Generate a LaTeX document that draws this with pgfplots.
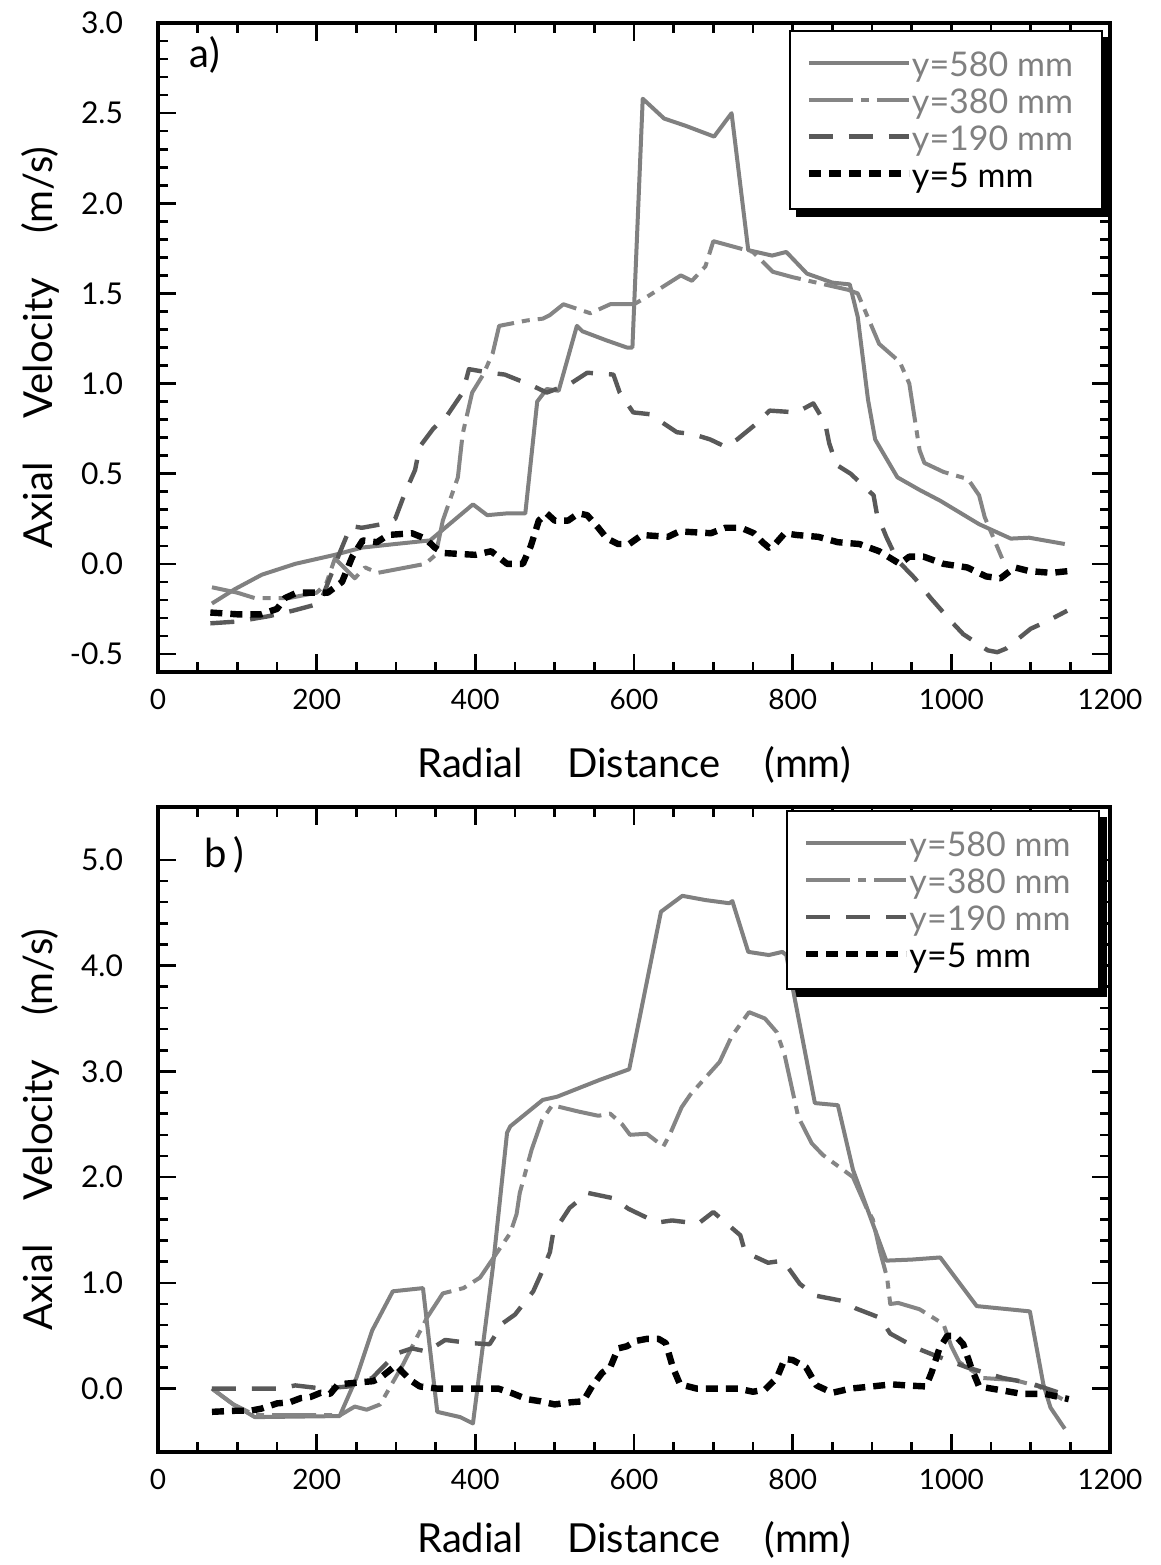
\documentclass[border=0pt]{standalone}
\usepackage{fontspec}
\setmainfont{Lato}
\usepackage{pgfplots}
\pgfplotsset{compat=1.18}
\usetikzlibrary{backgrounds}
\definecolor{gA}{gray}{0.50}
\definecolor{gB}{gray}{0.52}
\definecolor{gC}{gray}{0.35}
\pgfplotsset{
  myaxis/.style={
    scale only axis, width=476pt, anchor=south west,
    xmin=0, xmax=1200, xtick={0,200,400,600,800,1000,1200}, minor x tick num=3,
    axis line style={line width=2pt},
    tick style={line width=1.3pt, black},
    major tick length=9pt, minor tick length=5pt,
    tick align=inside,
    /pgf/number format/assume math mode=true,
    /pgf/number format/1000 sep={},
    xticklabel style={font=\fontsize{14}{14}\selectfont, yshift=-5pt},
    yticklabel style={font=\fontsize{15}{15}\selectfont, xshift=-14pt, /pgf/number format/.cd, fixed, fixed zerofill, precision=1},
    xlabel={Radial\hspace{1.1em}Distance\hspace{1.1em}(mm)},
    ylabel={Axial\hspace{1.1em}Velocity\hspace{1.1em}(m/s)},
    label style={font=\fontsize{20}{20}\selectfont},
    ylabel style={at={(axis description cs:-0.124,0.5)}, anchor=center},
    legend cell align=left,
    legend style={anchor=north east, draw=black, line width=1pt, fill=white,
      inner xsep=8pt, inner ysep=7.5pt, column sep=0pt, row sep=0pt,
      font=\fontsize{17}{17}\selectfont,
      nodes={inner sep=0pt, text height=15pt, text depth=3.5pt}},
    legend image code/.code={\draw[#1] (0pt,1pt) -- (50pt,1pt);},
  },
  s580/.style={gA, line width=2pt, line join=round},
  s380/.style={gB, line width=2pt, line join=round, dash pattern=on 22pt off 4pt on 4pt off 4pt},
  s190/.style={gC, line width=2.2pt, line join=round, dash pattern=on 12pt off 8pt},
  s5/.style={black, line width=3.2pt, line join=round, dash pattern=on 6pt off 4pt},
}
\begin{document}
\begin{tikzpicture}
\useasboundingbox (0pt,0pt) rectangle (580.5pt,-782.5pt);
% ---------------- panel a ----------------
\begin{axis}[myaxis, at={(79pt,-336pt)}, height=324.5pt,
  ymin=-0.6, ymax=3.0, ytick={-0.5,0.0,0.5,1.0,1.5,2.0,2.5,3.0}, minor y tick num=4,
  xlabel style={at={(axis description cs:0.5,-0.143)}, anchor=center},
  legend style={at={(0.9926,0.989)}, name=legA}]
\addplot[s580] coordinates {
(68,-0.22)(97,-0.14)(131,-0.06)(173,0.00)(223,0.05)(257,0.09)(299,0.11)(343,0.13)
(397,0.33)(415,0.27)(440,0.28)(463,0.28)(478,0.90)(490,0.97)(505,0.96)(528,1.32)
(535,1.29)(565,1.24)(591,1.20)(598,1.20)(611,2.58)(638,2.47)(665,2.43)(701,2.37)
(723,2.50)(744,1.74)(774,1.71)(792,1.73)(818,1.61)(850,1.56)(872,1.55)(882,1.37)
(895,0.91)(904,0.69)(932,0.48)(960,0.41)(986,0.35)(1035,0.22)(1060,0.17)(1075,0.14)
(1098,0.145)(1143,0.11)};
\addlegendentry{\textcolor{gA}{\makebox[87pt][l]{y=580 mm}}}
\addplot[s380] coordinates {
(68,-0.13)(100,-0.16)(122,-0.19)(165,-0.19)(200,-0.16)(212,-0.11)(223,0.03)(248,-0.08)
(261,-0.02)(277,-0.05)(337,0.00)(350,0.05)(359,0.24)(378,0.48)(384,0.72)(396,0.95)
(410,1.05)(422,1.17)(430,1.32)(465,1.35)(485,1.36)(494,1.38)(511,1.44)(545,1.39)
(570,1.44)(600,1.44)(616,1.48)(659,1.60)(673,1.57)(690,1.65)(700,1.79)(750,1.73)
(775,1.62)(800,1.59)(830,1.56)(870,1.52)(882,1.50)(909,1.22)(935,1.12)(947,1.00)
(960,0.63)(966,0.56)(990,0.51)(1021,0.47)(1035,0.38)(1042,0.26)(1064,0.03)};
\addlegendentry{\textcolor{gA}{\makebox[87pt][l]{y=380 mm}}}
\addplot[s190] coordinates {
(66,-0.33)(100,-0.32)(140,-0.29)(170,-0.26)(204,-0.22)(228,0.05)(243,0.21)(257,0.20)
(282,0.22)(299,0.25)(311,0.39)(324,0.52)(330,0.65)(347,0.75)(364,0.82)(384,0.95)
(392,1.08)(418,1.06)(437,1.05)(471,0.99)(490,0.95)(520,1.00)(541,1.06)(574,1.05)
(582,0.95)(599,0.84)(620,0.83)(654,0.73)(674,0.72)(696,0.69)(715,0.65)(730,0.69)
(755,0.78)(771,0.85)(805,0.84)(826,0.89)(841,0.78)(846,0.67)(855,0.55)(873,0.50)
(902,0.38)(906,0.28)(918,0.15)(932,0.02)(954,-0.08)(974,-0.19)(1000,-0.32)(1015,-0.39)
(1046,-0.48)(1058,-0.49)(1069,-0.47)(1100,-0.36)(1120,-0.32)(1146,-0.26)};
\addlegendentry{\textcolor{gA}{\makebox[87pt][l]{y=190 mm}}}
\addplot[s5] coordinates {
(66,-0.27)(100,-0.28)(130,-0.28)(150,-0.25)(160,-0.19)(175,-0.16)(214,-0.16)(232,-0.10)
(245,0.04)(258,0.13)(276,0.12)(290,0.16)(320,0.17)(337,0.14)(349,0.09)(360,0.06)
(400,0.05)(420,0.07)(440,0.00)(460,0.00)(470,0.10)(480,0.24)(490,0.28)(500,0.24)
(517,0.24)(530,0.28)(541,0.27)(555,0.20)(566,0.14)(580,0.11)(594,0.11)(610,0.16)
(643,0.15)(657,0.18)(697,0.17)(715,0.20)(735,0.20)(751,0.17)(762,0.12)(770,0.09)
(778,0.11)(790,0.17)(805,0.16)(832,0.15)(857,0.12)(884,0.11)(909,0.07)(935,0.00)
(947,0.04)(965,0.04)(990,0.00)(1020,-0.02)(1044,-0.07)(1062,-0.08)(1080,-0.02)
(1098,-0.04)(1126,-0.05)(1148,-0.04)};
\addlegendentry{\textcolor{black}{\makebox[87pt][l]{y=5 mm}}}
\node[anchor=west, font=\fontsize{20}{20}\selectfont] at (axis description cs:0.026,0.951) {a)};
\end{axis}
\begin{pgfonlayer}{background}
\fill[black] ([xshift=3.5pt,yshift=-3.5pt]legA.south west) rectangle ([xshift=3.5pt,yshift=-3.5pt]legA.north east);
\end{pgfonlayer}
% ---------------- panel b ----------------
\begin{axis}[myaxis, at={(79pt,-726pt)}, height=322.5pt,
  ymin=-0.6, ymax=5.5, ytick={0,1,2,3,4,5}, minor y tick num=4,
  xlabel style={at={(axis description cs:0.5,-0.136)}, anchor=center},
  legend style={at={(0.990,0.995)}, name=legB}]
\addplot[s580] coordinates {
(68,0.00)(95,-0.15)(122,-0.27)(229,-0.26)(250,0.10)(270,0.55)(296,0.92)(334,0.95)
(352,-0.22)(381,-0.27)(397,-0.33)(422,1.14)(440,2.42)(444,2.48)(485,2.73)(503,2.76)
(557,2.92)(594,3.02)(634,4.51)(661,4.66)(690,4.62)(720,4.59)(724,4.61)(744,4.13)
(770,4.10)(787,4.13)(792,4.10)(828,2.70)(857,2.68)(876,2.07)(918,1.21)(950,1.22)
(986,1.24)(1032,0.78)(1099,0.73)(1116,0.04)(1125,-0.18)(1143,-0.38)};
\addlegendentry{\textcolor{gA}{\makebox[87pt][l]{y=580 mm}}}
\addplot[s380] coordinates {
(68,0.00)(95,-0.15)(122,-0.25)(230,-0.25)(248,-0.17)(263,-0.20)(280,-0.15)(309,0.23)
(339,0.67)(359,0.90)(385,0.95)(406,1.05)(444,1.47)(452,1.65)(456,1.85)(471,2.26)
(484,2.54)(497,2.68)(530,2.62)(555,2.58)(570,2.60)(585,2.50)(595,2.40)(616,2.41)
(637,2.29)(645,2.40)(660,2.66)(671,2.78)(708,3.09)(723,3.33)(745,3.56)(765,3.50)
(780,3.37)(790,3.15)(807,2.57)(824,2.32)(838,2.21)(876,2.00)(893,1.71)(901,1.60)
(910,1.30)(919,1.05)(923,0.80)(933,0.81)(960,0.75)(990,0.61)(1000,0.40)(1010,0.25)
(1040,0.10)(1080,0.08)(1110,0.02)(1140,-0.10)};
\addlegendentry{\textcolor{gA}{\makebox[87pt][l]{y=380 mm}}}
\addplot[s190] coordinates {
(68,0.00)(100,0.00)(125,0.00)(154,0.00)(173,0.03)(207,0.00)(240,0.02)(270,0.10)
(300,0.33)(320,0.38)(339,0.35)(362,0.46)(393,0.43)(418,0.42)(435,0.62)(450,0.70)
(473,0.92)(482,1.07)(494,1.29)(498,1.47)(519,1.71)(542,1.85)(574,1.80)(593,1.70)
(629,1.57)(648,1.59)(681,1.56)(700,1.67)(734,1.45)(740,1.29)(769,1.19)(788,1.21)
(809,0.99)(828,0.88)(862,0.83)(879,0.76)(910,0.67)(923,0.52)(957,0.38)(977,0.32)
(1020,0.20)(1065,0.10)(1100,0.05)(1140,-0.05)};
\addlegendentry{\textcolor{gA}{\makebox[87pt][l]{y=190 mm}}}
\addplot[s5] coordinates {
(68,-0.22)(97,-0.21)(116,-0.21)(130,-0.19)(150,-0.14)(166,-0.13)(180,-0.09)(192,-0.08)
(205,-0.04)(217,-0.05)(227,0.04)(271,0.07)(280,0.10)(300,0.22)(309,0.15)(318,0.08)
(330,0.02)(352,0.00)(406,0.00)(429,0.00)(445,-0.04)(465,-0.10)(482,-0.12)(500,-0.15)
(520,-0.13)(536,-0.12)(547,0.02)(560,0.15)(570,0.20)(580,0.38)(591,0.40)(602,0.45)
(616,0.47)(631,0.47)(640,0.43)(649,0.20)(658,0.04)(679,0.00)(706,0.00)(731,0.00)
(750,-0.03)(765,-0.01)(780,0.10)(790,0.28)(800,0.27)(817,0.20)(830,0.03)(850,-0.04)
(873,0.00)(900,0.02)(925,0.04)(943,0.03)(968,0.02)(975,0.15)(985,0.38)(995,0.50)
(1005,0.50)(1015,0.42)(1025,0.20)(1035,0.02)(1066,-0.02)(1089,-0.05)(1118,-0.05)
(1148,-0.10)};
\addlegendentry{\textcolor{black}{\makebox[87pt][l]{y=5 mm}}}
\node[anchor=west, font=\fontsize{20}{20}\selectfont] at (axis description cs:0.041,0.926) {b\,)};
\end{axis}
\begin{pgfonlayer}{background}
\fill[black] ([xshift=3.5pt,yshift=-3.5pt]legB.south west) rectangle ([xshift=3.5pt,yshift=-3.5pt]legB.north east);
\end{pgfonlayer}
\end{tikzpicture}
\end{document}
